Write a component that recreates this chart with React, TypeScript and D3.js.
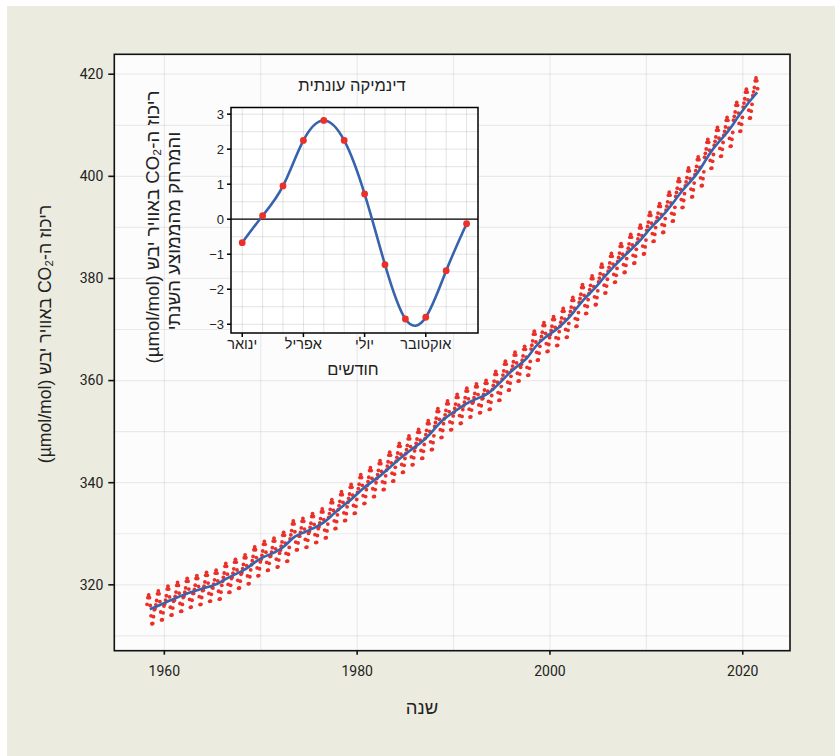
import React from 'react'
import * as d3 from 'd3'

// annual mean CO2 at Mauna Loa, 1958..2021 (µmol/mol)
const co2Years = d3.range(1958, 2022)
const co2Annual = [
  315.23, 315.98, 316.91, 317.64, 318.45, 318.99, 319.62, 320.04, 321.37, 322.18,
  323.05, 324.62, 325.68, 326.32, 327.46, 329.68, 330.19, 331.13, 332.03, 333.84,
  335.41, 336.84, 338.76, 340.12, 341.48, 343.15, 344.87, 346.35, 347.61, 349.31,
  351.69, 353.2, 354.45, 355.7, 356.54, 357.21, 358.96, 360.97, 362.74, 363.88,
  366.84, 368.54, 369.71, 371.32, 373.45, 375.98, 377.7, 379.98, 382.09, 384.02,
  385.83, 387.64, 390.1, 391.85, 394.06, 396.74, 398.81, 401.01, 404.41, 406.76,
  408.72, 411.66, 414.24, 416.45,
]

// seasonal cycle, departure from the annual mean by month
const months = [1, 2, 3, 4, 5, 6, 7, 8, 9, 10, 11, 12]
const seasonal = [-0.67, 0.1, 0.95, 2.25, 2.82, 2.25, 0.72, -1.3, -2.85, -2.8, -1.47, -0.13]
const monthTicks = [1, 4, 7, 10]
const monthLabels = ['ינואר', 'אפריל', 'יולי', 'אוקטובר']

const firstMonth = 3 // March 1958
const lastMonth = 7 // July 2021

const yearTicks = [1960, 1980, 2000, 2020]
const yearMinor = [1970, 1990, 2010]
const co2Ticks = [320, 340, 360, 380, 400, 420]
const co2Minor = [310, 330, 350, 370, 390, 410]
const devTicks = [-3, -2, -1, 0, 1, 2, 3]
const devMinor = [-2.5, -1.5, -0.5, 0.5, 1.5, 2.5]

const W = 835
const H = 756
const HEB = '"Liberation Sans", "DejaVu Sans", sans-serif'
const NUM = 'Roboto, "Liberation Sans", sans-serif'
const RED = '#ea3029'
const BLUE = '#3763ad'

type Pt = { t: number; v: number }

const monthly: Pt[] = []
co2Years.forEach((yr, i) => {
  months.forEach((m, j) => {
    if (yr === 1958 && m < firstMonth) return
    if (yr === 2021 && m > lastMonth) return
    monthly.push({ t: yr + (m - 0.5) / 12, v: co2Annual[i] + seasonal[j] })
  })
})
const trend: Pt[] = co2Years.map((yr, i) => ({ t: yr + 0.5, v: co2Annual[i] }))

const x = d3.scaleLinear().domain([1954.81, 2024.9]).range([114.3, 790])
const y = d3.scaleLinear().domain([307.1, 423.9]).range([650.7, 54.3])

const ix = d3.scaleLinear().domain([0.45, 12.56]).range([231, 478])
const iy = d3.scaleLinear().domain([-3.25, 3.19]).range([333, 107.5])

const trendLine = d3.line<Pt>().x(d => x(d.t)).y(d => y(d.v)).curve(d3.curveBasis)
const seasonLine = d3.line<number>().x((_, i) => ix(months[i])).y(d => iy(d)).curve(d3.curveNatural)

const Inset = () => {
  const [x0, x1] = ix.range()
  const [y0, y1] = iy.range()
  return (
    <g>
      <rect x={x0} y={y1} width={x1 - x0} height={y0 - y1} fill="#fff" />
      {months.map(m => (
        <line key={'mv' + m} x1={ix(m)} x2={ix(m)} y1={y1} y2={y0} stroke="#000" strokeOpacity={0.16} strokeWidth={0.7} />
      ))}
      {devTicks.concat(devMinor).map(v => (
        <line key={'dh' + v} x1={x0} x2={x1} y1={iy(v)} y2={iy(v)} stroke="#000" strokeOpacity={0.16} strokeWidth={0.7} />
      ))}
      <line x1={x0} x2={x1} y1={iy(0)} y2={iy(0)} stroke="#000" strokeWidth={1.3} />
      <path d={seasonLine(seasonal) ?? ''} fill="none" stroke={BLUE} strokeWidth={2.6} />
      {seasonal.map((v, i) => (
        <circle key={'sd' + i} cx={ix(months[i])} cy={iy(v)} r={3.4} fill={RED} />
      ))}
      <rect x={x0} y={y1} width={x1 - x0} height={y0 - y1} fill="none" stroke="#000" strokeWidth={1.5} />
      {devTicks.map(v => (
        <g key={'dt' + v}>
          <line x1={x0 - 4} x2={x0} y1={iy(v)} y2={iy(v)} stroke="#000" strokeWidth={1.5} />
          <text x={x0 - 7} y={iy(v)} dy="0.35em" textAnchor="end" fontFamily={HEB} fontSize={13} fill="#222">
            {v < 0 ? '−' + Math.abs(v) : v}
          </text>
        </g>
      ))}
      {monthTicks.map((m, i) => (
        <g key={'mt' + m}>
          <line x1={ix(m)} x2={ix(m)} y1={y0} y2={y0 + 4} stroke="#000" strokeWidth={1.5} />
          <text x={ix(m)} y={y0 + 16} textAnchor="middle" direction="rtl" fontFamily={HEB} fontSize={14.5} fill="#222">
            {monthLabels[i]}
          </text>
        </g>
      ))}
      <text x={352} y={91} textAnchor="middle" direction="rtl" fontFamily={HEB} fontSize={16.5} fill="#222">
        דינמיקה עונתית
      </text>
      <text x={353} y={375} textAnchor="middle" direction="rtl" fontFamily={HEB} fontSize={16.5} fill="#222">
        חודשים
      </text>
      <text transform="translate(152,227) rotate(-90)" textAnchor="middle" dominantBaseline="central" direction="rtl" fontFamily={HEB} fontSize={18.6} fill="#222">
        ריכוז ה-CO₂ באוויר יבש (µmol/mol)
      </text>
      <text transform="translate(173,231) rotate(-90)" textAnchor="middle" dominantBaseline="central" direction="rtl" fontFamily={HEB} fontSize={18.6} fill="#222">
        והמרחק מהממוצע השנתי
      </text>
    </g>
  )
}

export default function App() {
  const [x0, x1] = x.range()
  const [y0, y1] = y.range()
  return (
    <>
      <style>{'body{margin:0}'}</style>
      <svg width={W} height={H} style={{ display: 'block' }}>
        <rect width={W} height={H} fill="#fff" />
        <rect x={7} y={6} width={W - 7} height={H - 6} fill="#ebecdf" />
        <rect x={x0} y={y1} width={x1 - x0} height={y0 - y1} fill="#fcfcfc" />
        {yearTicks.concat(yearMinor).map(t => (
          <line key={'gx' + t} x1={x(t)} x2={x(t)} y1={y1} y2={y0} stroke="#000" strokeOpacity={0.07} strokeWidth={1.2} />
        ))}
        {co2Ticks.concat(co2Minor).map(v => (
          <line key={'gy' + v} x1={x0} x2={x1} y1={y(v)} y2={y(v)} stroke="#000" strokeOpacity={0.07} strokeWidth={1.2} />
        ))}
        {monthly.map((d, i) => (
          <circle key={'m' + i} cx={x(d.t)} cy={y(d.v)} r={1.9} fill={RED} />
        ))}
        <path d={trendLine(trend) ?? ''} fill="none" stroke={BLUE} strokeWidth={2.6} />
        <rect x={x0} y={y1} width={x1 - x0} height={y0 - y1} fill="none" stroke="#111" strokeWidth={1.6} />
        {co2Ticks.map(v => (
          <g key={'yt' + v}>
            <line x1={x0 - 6} x2={x0} y1={y(v)} y2={y(v)} stroke="#111" strokeWidth={1.6} />
            <text x={x0 - 11} y={y(v)} dy="0.35em" textAnchor="end" fontFamily={NUM} fontSize={14} fill="#222">{v}</text>
          </g>
        ))}
        {yearTicks.map(t => (
          <g key={'xt' + t}>
            <line x1={x(t)} x2={x(t)} y1={y0} y2={y0 + 4} stroke="#111" strokeWidth={1.6} />
            <text x={x(t)} y={y0 + 20} dy="0.35em" textAnchor="middle" fontFamily={NUM} fontSize={14} fill="#222">{t}</text>
          </g>
        ))}
        <text x={422} y={708} dy="0.35em" textAnchor="middle" direction="rtl" fontFamily={HEB} fontSize={18.5} fill="#222">
          שנה
        </text>
        <text transform="translate(45,334) rotate(-90)" textAnchor="middle" dominantBaseline="central" direction="rtl" fontFamily={HEB} fontSize={17.6} fill="#222">
          ריכוז ה-CO₂ באוויר יבש (µmol/mol)
        </text>
        <Inset />
      </svg>
    </>
  )
}
